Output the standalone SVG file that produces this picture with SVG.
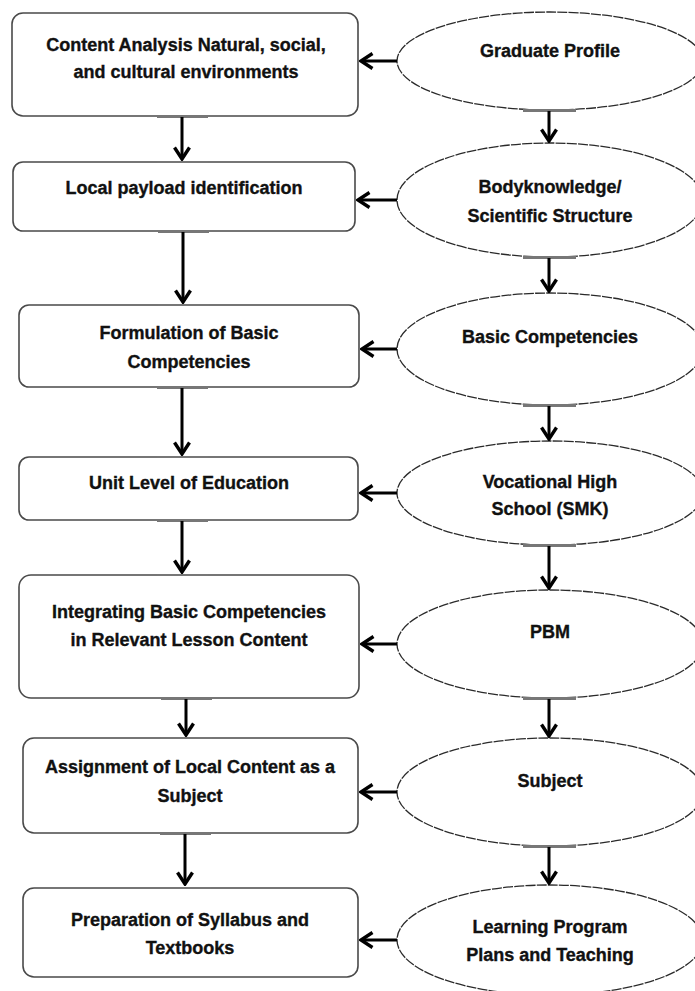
<svg xmlns="http://www.w3.org/2000/svg" width="695" height="991" viewBox="0 0 695 991">
<style>
.box{fill:#fff;stroke:#4a4a4a;stroke-width:1.6}
.ell{fill:#fff;stroke:#2a2a2a;stroke-width:1.3;stroke-dasharray:10 1.2}
.t{font-family:"Liberation Sans",Arial,sans-serif;font-weight:bold;font-size:18px;fill:#111;stroke:#111;stroke-width:0.35;text-anchor:middle}
.c{fill:none;stroke:#000;stroke-width:3}
.bar{fill:#777}
</style>
<defs>
<marker id="ah" viewBox="0 0 16 18" refX="14" refY="9" markerWidth="16" markerHeight="18" markerUnits="userSpaceOnUse" orient="auto">
<path d="M2.5,1.5 L14,9 L2.5,16.5" fill="none" stroke="#000" stroke-width="3.4" stroke-linejoin="miter"/>
</marker>
</defs>
<rect width="695" height="991" fill="#fff"/>

<g id="b1"><rect class="box" x="12" y="13" width="346" height="103" rx="11"/>
<text class="t" x="186" y="51">Content Analysis Natural, social,</text>
<text class="t" x="186" y="78">and cultural environments</text></g>
<g id="b2"><rect class="box" x="13" y="162" width="342" height="69" rx="10"/>
<text class="t" x="184" y="194">Local payload identification</text></g>
<g id="b3"><rect class="box" x="19" y="305" width="340" height="82" rx="10"/>
<text class="t" x="189" y="339">Formulation of Basic</text>
<text class="t" x="189" y="368">Competencies</text></g>
<g id="b4"><rect class="box" x="19" y="457" width="339" height="63" rx="10"/>
<text class="t" x="189" y="489">Unit Level of Education</text></g>
<g id="b5"><rect class="box" x="19" y="575" width="340" height="123" rx="12"/>
<text class="t" x="189" y="618">Integrating Basic Competencies</text>
<text class="t" x="189" y="646">in Relevant Lesson Content</text></g>
<g id="b6"><rect class="box" x="23" y="738" width="335" height="95" rx="11"/>
<text class="t" x="190" y="773">Assignment of Local Content as a</text>
<text class="t" x="190" y="802">Subject</text></g>
<g id="b7"><rect class="box" x="23" y="888" width="335" height="89" rx="11"/>
<text class="t" x="190" y="926">Preparation of Syllabus and</text>
<text class="t" x="190" y="954">Textbooks</text></g>

<g id="e1"><ellipse class="ell" cx="550" cy="61" rx="153" ry="49"/>
<text class="t" x="550" y="57">Graduate Profile</text></g>
<g id="e2"><ellipse class="ell" cx="550" cy="200" rx="153" ry="57"/>
<text class="t" x="550" y="193">Bodyknowledge/</text>
<text class="t" x="550" y="222">Scientific Structure</text></g>
<g id="e3"><ellipse class="ell" cx="550" cy="349" rx="153" ry="56"/>
<text class="t" x="550" y="343">Basic Competencies</text></g>
<g id="e4"><ellipse class="ell" cx="550" cy="493" rx="153" ry="52"/>
<text class="t" x="550" y="488">Vocational High</text>
<text class="t" x="550" y="515">School (SMK)</text></g>
<g id="e5"><ellipse class="ell" cx="550" cy="644" rx="153" ry="54"/>
<text class="t" x="550" y="638">PBM</text></g>
<g id="e6"><ellipse class="ell" cx="550" cy="792" rx="153" ry="54"/>
<text class="t" x="550" y="787">Subject</text></g>
<g id="e7"><ellipse class="ell" cx="550" cy="940" rx="153" ry="55"/>
<text class="t" x="550" y="933">Learning Program</text>
<text class="t" x="550" y="961">Plans and Teaching</text></g>

<g id="connectors">
<g class="bars">
<rect class="bar" x="157" y="115" width="51" height="3"/>
<rect class="bar" x="157" y="161" width="51" height="2"/>
<rect class="bar" x="158" y="230" width="51" height="3"/>
<rect class="bar" x="158" y="304" width="51" height="2"/>
<rect class="bar" x="157" y="386" width="51" height="3"/>
<rect class="bar" x="157" y="456" width="51" height="2"/>
<rect class="bar" x="157" y="519" width="51" height="3"/>
<rect class="bar" x="157" y="574" width="51" height="2"/>
<rect class="bar" x="161" y="697" width="51" height="3"/>
<rect class="bar" x="161" y="737" width="51" height="2"/>
<rect class="bar" x="160" y="832" width="51" height="3"/>
<rect class="bar" x="160" y="887" width="51" height="2"/>
<rect class="bar" x="523" y="109" width="53" height="3"/>
<rect class="bar" x="523" y="256" width="53" height="3"/>
<rect class="bar" x="523" y="404" width="53" height="3"/>
<rect class="bar" x="523" y="544" width="53" height="3"/>
<rect class="bar" x="523" y="697" width="53" height="3"/>
<rect class="bar" x="523" y="845" width="53" height="3"/>
</g>
<path class="c" d="M182,117 V159" marker-end="url(#ah)"/>
<path class="c" d="M183,232 V302" marker-end="url(#ah)"/>
<path class="c" d="M182,388 V454" marker-end="url(#ah)"/>
<path class="c" d="M182,521 V572" marker-end="url(#ah)"/>
<path class="c" d="M186,699 V735" marker-end="url(#ah)"/>
<path class="c" d="M185,834 V884" marker-end="url(#ah)"/>
<path class="c" d="M549,111 V141" marker-end="url(#ah)"/>
<path class="c" d="M549,258 V291" marker-end="url(#ah)"/>
<path class="c" d="M549,406 V439" marker-end="url(#ah)"/>
<path class="c" d="M549,546 V588" marker-end="url(#ah)"/>
<path class="c" d="M549,699 V736" marker-end="url(#ah)"/>
<path class="c" d="M549,847 V883" marker-end="url(#ah)"/>
<path class="c" d="M397,61 H361" marker-end="url(#ah)"/>
<path class="c" d="M397,200 H358" marker-end="url(#ah)"/>
<path class="c" d="M397,349 H362" marker-end="url(#ah)"/>
<path class="c" d="M397,493 H361" marker-end="url(#ah)"/>
<path class="c" d="M397,644 H362" marker-end="url(#ah)"/>
<path class="c" d="M397,792 H361" marker-end="url(#ah)"/>
<path class="c" d="M397,940 H361" marker-end="url(#ah)"/>
</g>
</svg>
